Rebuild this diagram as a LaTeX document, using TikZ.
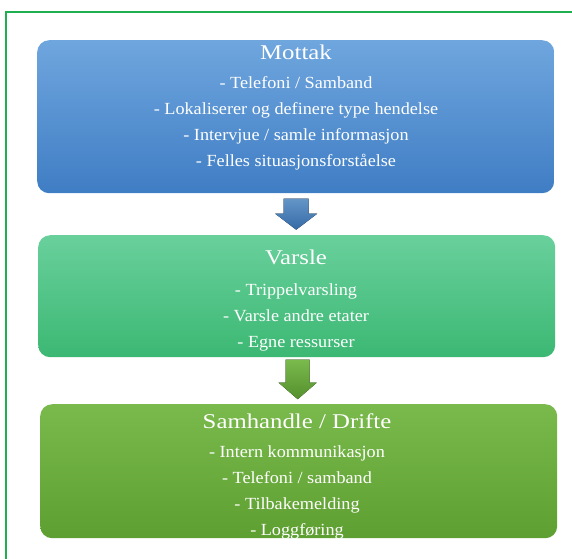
\documentclass[tikz,border=0pt]{standalone}
\usepackage{fontspec}
\setmainfont{Liberation Serif}
\newfontfamily\tittelfont[FakeStretch=1.18]{Liberation Serif}
\newfontfamily\punktfont[FakeStretch=1.07]{Liberation Serif}
\usetikzlibrary{positioning, calc}

\definecolor{ramme}{HTML}{1FAF50}
\definecolor{blaaTopp}{HTML}{6FA6DE}
\definecolor{blaaBunn}{HTML}{3F7DC4}
\definecolor{turkisTopp}{HTML}{69D09C}
\definecolor{turkisBunn}{HTML}{3CB873}
\definecolor{gronnTopp}{HTML}{7ABA4C}
\definecolor{gronnBunn}{HTML}{5E9F32}

\begin{document}
\begin{tikzpicture}[x=1pt, y=-1pt,
                boks/.style={rounded corners=12pt, anchor=north west, inner sep=0pt, minimum width=517pt}, % Box for each phase
                tittel/.style={text=white, inner sep=0pt, font=\tittelfont\fontsize{21}{26}\selectfont}, % Phase heading
                punkter/.style={text=white, inner sep=0pt, anchor=north, align=center, font=\punktfont\fontsize{17}{26}\selectfont} % Bullet lines
                ]
                \useasboundingbox (0,0) rectangle (572,558);
                \draw[ramme, line width=1.6pt] (6,560) -- (6,12) -- (574,12);

                % Boxes
                \node[boks, minimum height=153pt, top color=blaaTopp, bottom color=blaaBunn] (mottak) at (37,40) {};
                \node[boks, minimum height=122pt, top color=turkisTopp, bottom color=turkisBunn] (varsle) at (38,235) {};
                \node[boks, minimum height=134pt, top color=gronnTopp, bottom color=gronnBunn] (samhandle) at (40,404) {};

                % Texts
                \node[tittel] (mottakTittel) at (296,52) {Mottak};
                \node[punkter] (mottakPunkter) at (296,76) {- Telefoni / Samband\\- Lokaliserer og definere type hendelse\\- Intervjue / samle informasjon\\- Felles situasjonsforståelse};
                \node[tittel] (varsleTittel) at (296,257) {Varsle};
                \node[punkter] (varslePunkter) at (296,283) {- Trippelvarsling\\- Varsle andre etater\\- Egne ressurser};
                \node[tittel] (samhandleTittel) at (297,421) {Samhandle / Drifte};
                \node[punkter] (samhandlePunkter) at (297,445) {- Intern kommunikasjon\\- Telefoni / samband\\- Tilbakemelding\\- Loggføring};

                % Block arrows
                \coordinate (pil1) at ($(mottak.south)!0.5!(varsle.north)$);
                \coordinate (pil2) at ($(varsle.south)!0.5!(samhandle.north)$);
                \fill[top color=blaaTopp!90!black, bottom color=blaaBunn!85!black] (pil1) ++(-12.5,-15.5) -- ++(25,0) -- ++(0,15) -- ++(8.5,0) -- ++(-21,16) -- ++(-21,-16) -- ++(8.5,0) -- cycle;
                \fill[top color=gronnTopp, bottom color=gronnBunn!90!black] (pil2) ++(-12,-21) -- ++(24,0) -- ++(0,23) -- ++(7,0) -- ++(-19,16.5) -- ++(-19,-16.5) -- ++(7,0) -- cycle;
            \end{tikzpicture}
\end{document}
